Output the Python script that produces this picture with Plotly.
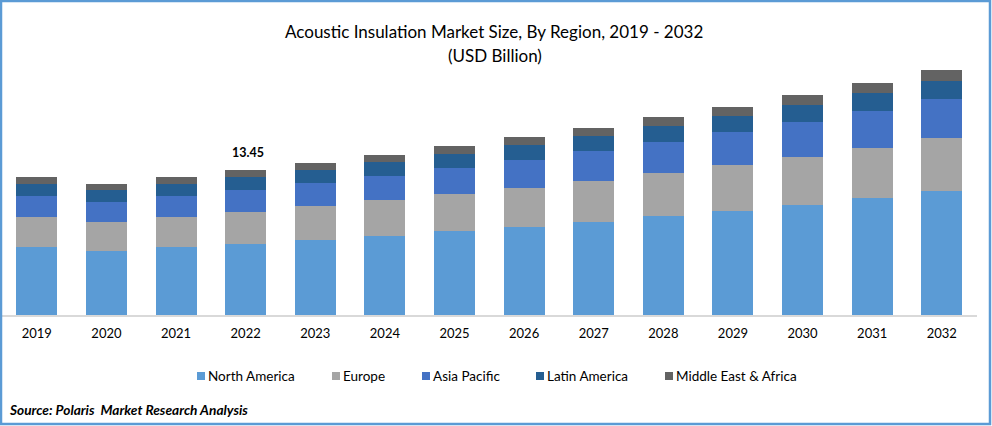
import plotly.graph_objects as go

years = ["2019","2020","2021","2022","2023","2024","2025","2026","2027","2028","2029","2030","2031","2032"]
north_america = [6.30,5.93,6.30,6.58,6.95,7.32,7.79,8.16,8.62,9.18,9.64,10.20,10.85,11.50]
europe = [2.78,2.69,2.78,2.97,3.15,3.34,3.43,3.62,3.80,3.99,4.26,4.45,4.64,4.91]
asia_pacific = [1.95,1.85,1.95,2.04,2.13,2.23,2.41,2.60,2.78,2.87,3.06,3.24,3.43,3.62]
latin_america = [1.11,1.11,1.11,1.21,1.21,1.30,1.30,1.39,1.39,1.48,1.48,1.58,1.67,1.67]
mea = [0.65,0.56,0.65,0.65,0.65,0.65,0.74,0.74,0.74,0.83,0.83,0.93,0.93,1.02]
series = [("North America", north_america, "#5B9BD5"), ("Europe", europe, "#A5A5A5"),
          ("Asia Pacific", asia_pacific, "#4472C4"), ("Latin America", latin_america, "#255E91"),
          ("Middle East & Africa", mea, "#636363")]
legend_left = [197, 332, 422, 536, 665]
FONT = "Lato"
W, H = 992, 426

fig = go.Figure()
for (name, vals, col), lx in zip(series, legend_left):
    fig.add_trace(go.Bar(name=name, x=years, y=vals, marker=dict(color=col, line_width=0), showlegend=False))
    fig.add_shape(type="rect", xref="paper", yref="paper", x0=lx/W, x1=(lx+8)/W, y0=1-380/H, y1=1-372/H,
                  line_width=0, fillcolor=col)
    fig.add_annotation(xref="paper", yref="paper", x=(lx+9)/W, y=1-376/H, xanchor="left", yanchor="middle",
                       text=name, showarrow=False, font=dict(family=FONT, size=13.5, color="#000"))

fig.add_annotation(x=years.index("2022"), y=13.45, text="<b>13.45</b>", showarrow=False, yanchor="bottom",
                   yshift=8, xshift=2, font=dict(family=FONT, size=12.5, color="#000"))
fig.add_annotation(xref="paper", yref="paper", x=494/W, y=1-32/H, xanchor="center", yanchor="middle",
                   text="Acoustic Insulation Market Size, By Region, 2019 - 2032",
                   showarrow=False, font=dict(family=FONT, size=17, color="#000"))
fig.add_annotation(xref="paper", yref="paper", x=495/W, y=1-55.5/H, xanchor="center", yanchor="middle",
                   text="(USD Billion)", showarrow=False, font=dict(family=FONT, size=17, color="#000"))
fig.add_annotation(xref="paper", yref="paper", x=7/W, y=1-409/H, xanchor="left", yanchor="middle",
                   text="<b><i>Source: Polaris  Market Research Analysis</i></b>",
                   showarrow=False, font=dict(family=FONT, size=13.7, color="#000"))
# frame
fig.add_shape(type="rect", xref="paper", yref="paper", x0=1/W, x1=1-2/W, y0=2/H, y1=1-1/H,
              line=dict(color="#5B9BD5", width=2.5), fillcolor="rgba(0,0,0,0)", layer="above")

fig.update_layout(
    width=W, height=H, barmode="stack", bargap=0.41, autosize=False,
    margin=dict(l=0, r=0, t=0, b=0), paper_bgcolor="#fff", plot_bgcolor="#fff",
    font=dict(family=FONT, size=13, color="#000"),
    xaxis=dict(type="category", range=[-0.5, 13.5], domain=[2/W, 976.6/W], showgrid=False, showline=True,
               linecolor="#D9D9D9", linewidth=1.5, ticks="", tickfont=dict(size=13, color="#000"),
               automargin=False, ticklabelstandoff=6),
    yaxis=dict(domain=[(H-315)/H, (H-60)/H], range=[0, 255/10.786], visible=False, automargin=False),
    showlegend=False,
)
fig.write_html("out.html", post_script="document.body.style.margin='0';", config={"displayModeBar": False})
